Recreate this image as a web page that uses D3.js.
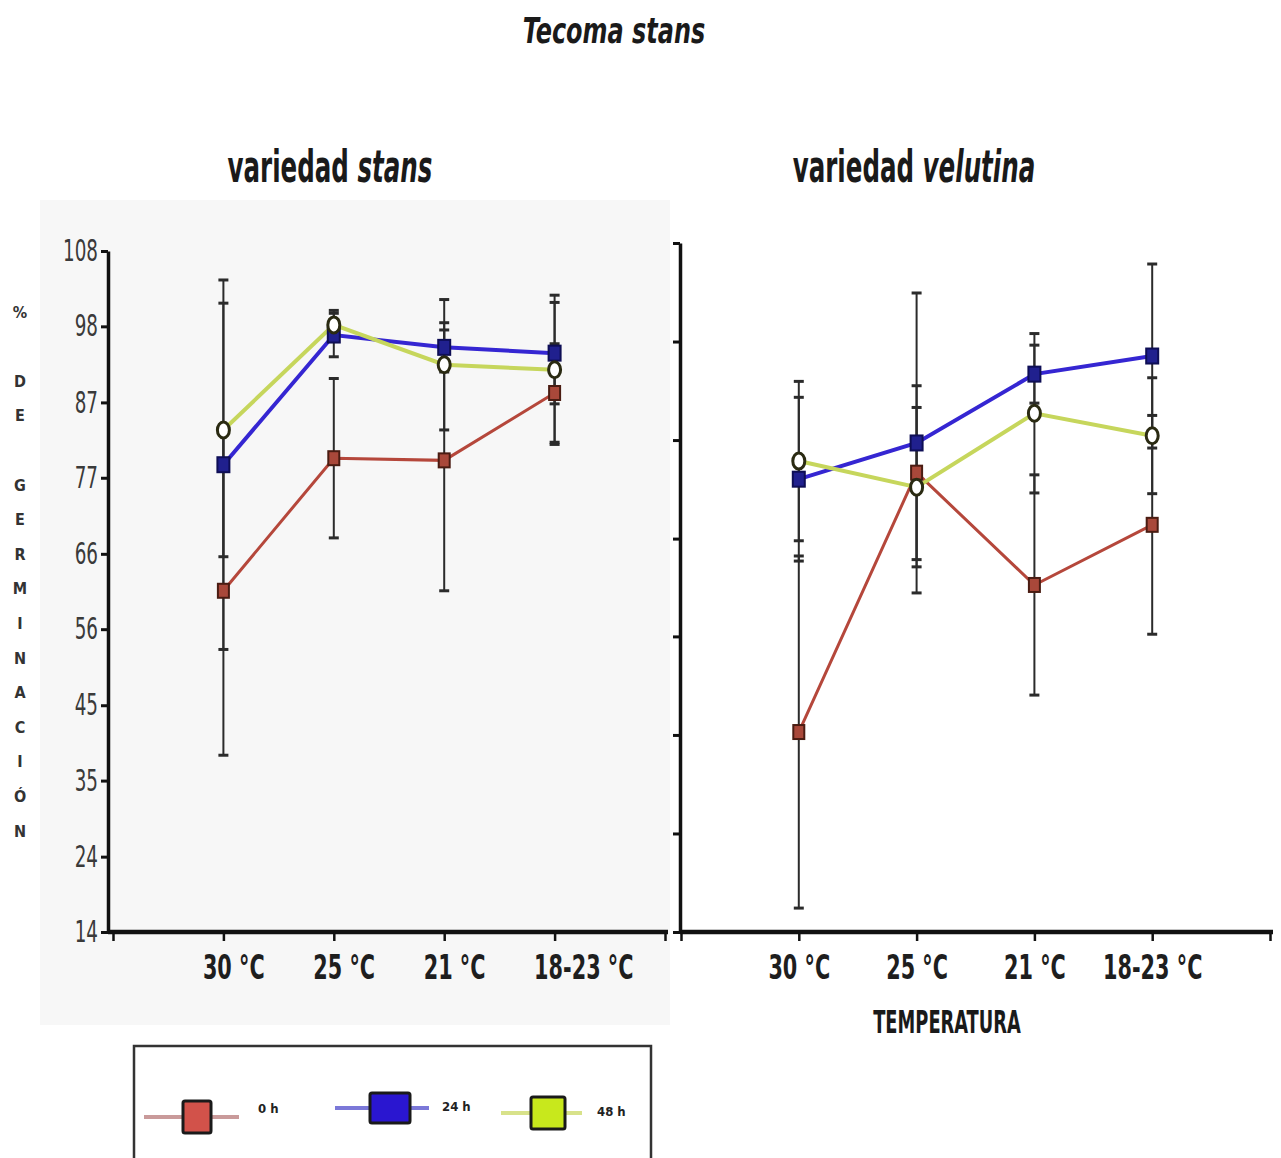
<!DOCTYPE html>
<html>
<head>
<meta charset="utf-8">
<script src="https://cdn.jsdelivr.net/npm/d3@7"></script>
<style>
body { margin: 0; background: #fff; }
svg text { font-family: 'DejaVu Sans Condensed', 'DejaVu Sans', sans-serif; font-stretch: condensed; }
</style>
</head>
<body>
<div id="holder"></div>
<script>
const w = 1281;
const h = 1158;

// DATA
const categories = ["30 °C", "25 °C", "21 °C", "18-23 °C"];
const seriesNames = ["0 h", "24 h", "48 h"];

// variedad stans (mean, error)
const stans0h = [61.1, 79.4, 79.1, 88.4];
const stans0hErr = [22.7, 11, 18, 6.8];
const stans24h = [78.5, 96.4, 94.7, 93.9];
const stans24hErr = [25.5, 3, 3.4, 7];
const stans48h = [83.3, 97.8, 92.3, 91.6];
const stans48hErr = [17.5, 2, 9, 10.3];

// variedad velutina (mean, error)
const velutina0h = [41.6, 77.4, 61.9, 70.2];
const velutina0hErr = [24.3, 12, 15.2, 15.1];
const velutina24h = [76.5, 81.5, 91.0, 93.5];
const velutina24hErr = [11.3, 20.7, 4, 12.7];
const velutina48h = [79.0, 75.4, 85.6, 82.5];
const velutina48hErr = [11, 11, 11, 8];

// tick values
const yTicksLeft = [14, 24.4, 34.9, 45.3, 55.8, 66.2, 76.7, 87.1, 97.6, 108];
const yTicksRight = [14, 27.6, 41.2, 54.8, 68.3, 81.9, 95.5, 109.1];
const yLabelLetters = ["%", "", "D", "E", "", "G", "E", "R", "M", "I", "N", "A", "C", "I", "Ó", "N"];

const colors = ["#b5473b", "#3526d2", "#c6d65c"];

// CREATE SVG
const svg = d3.select("#holder")
    .append("svg")
    .attr("width", w)
    .attr("height", h)

// left panel background
svg.append("rect")
    .attr("x", 40).attr("y", 200)
    .attr("width", 630).attr("height", 825)
    .attr("fill", "#f7f7f7")

// squeezed text helper
function label(g, x, y, txt, size, sx, opts = {}) {
    const t = g.append("g")
        .attr("transform", `translate(${x},${y})`)
        .append("text")
        .attr("transform", `scale(${sx},1)`)
        .attr("text-anchor", opts.anchor || "middle")
        .attr("font-size", size)
        .attr("font-weight", opts.weight || "bold")
        .attr("fill", opts.fill || "#1a1a1a")
    if (opts.italic) t.attr("font-style", "italic")
    if (opts.parts) {
        opts.parts.forEach(p => t.append("tspan").attr("font-style", p[1] ? "italic" : "normal").text(p[0]))
    } else {
        t.text(txt)
    }
    return t
}

// TITLES
label(svg, 614, 43, "Tecoma stans", 36, 0.74, { italic: true })
label(svg, 330, 182, "", 44, 0.62, { parts: [["variedad ", false], ["stans", true]] })
label(svg, 914, 182, "", 44, 0.62, { parts: [["variedad ", false], ["velutina", true]] })
label(svg, 947, 1033, "TEMPERATURA", 32, 0.62)

// Y LABEL (stacked letters)
svg.append("g").selectAll("text")
    .data(yLabelLetters)
    .enter()
    .append("text")
    .attr("x", 20)
    .attr("y", (d, i) => 312 + i * 34.6)
    .attr("dy", "0.35em")
    .attr("text-anchor", "middle")
    .attr("font-size", 16)
    .attr("font-weight", "bold")
    .attr("fill", "#333")
    .text(d => d)

// SCALES
const y = d3.scaleLinear().domain([14, 108]).range([932, 251]);
const yR = d3.scaleLinear().domain([14, 109.1]).range([932, 243]);

const panels = [
    { x: d3.scaleLinear().domain([0, 5]).range([113, 665]), y: y, yTicks: yTicksLeft, ax: 108, axEnd: 668, labels: true, shift: -21, anchor: "start",
      values: [stans0h, stans24h, stans48h], errs: [stans0hErr, stans24hErr, stans48hErr] },
    { x: d3.scaleLinear().domain([0, 5]).range([681, 1270]), y: yR, yTicks: yTicksRight, ax: 680, axEnd: 1273, labels: false, shift: 0, anchor: "middle",
      values: [velutina0h, velutina24h, velutina48h], errs: [velutina0hErr, velutina24hErr, velutina48hErr] }
];

panels.forEach(p => {
    const g = svg.append("g");

    // Y AXIS
    const yAxis = d3.axisLeft(p.y)
        .tickValues(p.yTicks)
        .tickSize(7)
        .tickSizeOuter(0)
        .tickFormat(p.labels ? d3.format(".0f") : "");
    const ya = g.append("g")
        .attr("transform", "translate(" + p.ax + ",0)")
        .call(yAxis);
    ya.select(".domain").attr("stroke", "#111").attr("stroke-width", 3.5);
    ya.selectAll(".tick line").attr("stroke", "#111").attr("stroke-width", 3);
    ya.selectAll(".tick text")
        .attr("font-size", 30)
        .attr("fill", "#3a3a3a")
        .attr("x", -10 / 0.68)
        .attr("transform", "scale(0.68,1)");

    // X AXIS
    const xAxis = d3.axisBottom(p.x)
        .tickValues([0, 1, 2, 3, 4, 5])
        .tickSize(9)
        .tickSizeOuter(0)
        .tickFormat(d => (d >= 1 && d <= 4) ? categories[d - 1] : "");
    const xa = g.append("g")
        .attr("transform", "translate(0,932)")
        .call(xAxis);
    xa.select(".domain").attr("d", `M${p.ax},0H${p.axEnd}`).attr("stroke", "#111").attr("stroke-width", 4.5);
    xa.selectAll(".tick line").attr("stroke", "#111").attr("stroke-width", 2.5);
    xa.selectAll(".tick text")
        .attr("font-size", 34)
        .attr("font-weight", "bold")
        .attr("fill", "#1e1e1e")
        .attr("text-anchor", p.anchor)
        .attr("x", p.shift / 0.68)
        .attr("y", 23)
        .attr("dy", "0.71em")
        .attr("transform", "scale(0.68,1)");

    const line = d3.line()
        .x((d, i) => p.x(i + 1))
        .y(d => p.y(d));

    // LINES
    [0, 1, 2].forEach(s => {
        g.append("path")
            .attr("d", line(p.values[s]))
            .attr("fill", "none")
            .attr("stroke", colors[s])
            .attr("stroke-width", s === 0 ? 3 : 4)
    });

    // ERROR BARS
    [0, 1, 2].forEach(s => {
        const eb = g.append("g").selectAll("g")
            .data(p.values[s].map((v, i) => ({ v: v, e: p.errs[s][i], i: i })))
            .enter().append("g")
            .attr("stroke", "#2b2b2b");
        eb.append("line")
            .attr("x1", d => p.x(d.i + 1)).attr("x2", d => p.x(d.i + 1))
            .attr("y1", d => p.y(d.v + d.e)).attr("y2", d => p.y(d.v - d.e))
            .attr("stroke-width", 2);
        [1, -1].forEach(sign => {
            eb.append("line")
                .attr("x1", d => p.x(d.i + 1) - 5).attr("x2", d => p.x(d.i + 1) + 5)
                .attr("y1", d => p.y(d.v + sign * d.e)).attr("y2", d => p.y(d.v + sign * d.e))
                .attr("stroke-width", 3);
        });
    });

    // MARKERS
    g.append("g").selectAll("rect")
        .data(p.values[0]).enter().append("rect")
        .attr("x", (d, i) => p.x(i + 1) - 5.5).attr("y", d => p.y(d) - 7)
        .attr("width", 11).attr("height", 14)
        .attr("fill", "#a9483a").attr("stroke", "#4a1c12").attr("stroke-width", 2);
    g.append("g").selectAll("rect")
        .data(p.values[1]).enter().append("rect")
        .attr("x", (d, i) => p.x(i + 1) - 6).attr("y", d => p.y(d) - 7.5)
        .attr("width", 12).attr("height", 15)
        .attr("fill", "#20208e").attr("stroke", "#0e0e55").attr("stroke-width", 2);
    g.append("g").selectAll("ellipse")
        .data(p.values[2]).enter().append("ellipse")
        .attr("cx", (d, i) => p.x(i + 1)).attr("cy", d => p.y(d))
        .attr("rx", 6).attr("ry", 8)
        .attr("fill", "#fff").attr("stroke", "#2a2a12").attr("stroke-width", 3);
});

// LEGEND
const legend = svg.append("g");
legend.append("rect")
    .attr("x", 134).attr("y", 1046)
    .attr("width", 517).attr("height", 120)
    .attr("fill", "#fff").attr("stroke", "#333").attr("stroke-width", 2.5);

const legendItems = [
    { x1: 144, x2: 239, mx: 197, my: 1117, mw: 28, mh: 32, fill: "#d2524a", lx: 258, ly: 1108 },
    { x1: 335, x2: 429, mx: 390, my: 1108, mw: 40, mh: 30, fill: "#2a16d0", lx: 442, ly: 1106 },
    { x1: 501, x2: 582, mx: 548, my: 1113, mw: 34, mh: 32, fill: "#c8e81c", lx: 597, ly: 1111 }
];
const lineFills = ["#c99a9a", "#7b78d8", "#d8e28a"];
legendItems.forEach((it, s) => {
    legend.append("line")
        .attr("x1", it.x1).attr("x2", it.x2)
        .attr("y1", it.my).attr("y2", it.my)
        .attr("stroke", lineFills[s]).attr("stroke-width", 4);
    legend.append("rect")
        .attr("x", it.mx - it.mw / 2).attr("y", it.my - it.mh / 2)
        .attr("width", it.mw).attr("height", it.mh)
        .attr("rx", 2)
        .attr("fill", it.fill).attr("stroke", "#1a1a1a").attr("stroke-width", 3);
    legend.append("text")
        .attr("x", it.lx).attr("y", it.ly)
        .attr("dy", "0.35em")
        .attr("font-size", 13)
        .attr("font-weight", "bold")
        .attr("fill", "#222")
        .text(seriesNames[s]);
});
</script>
</body>
</html>
